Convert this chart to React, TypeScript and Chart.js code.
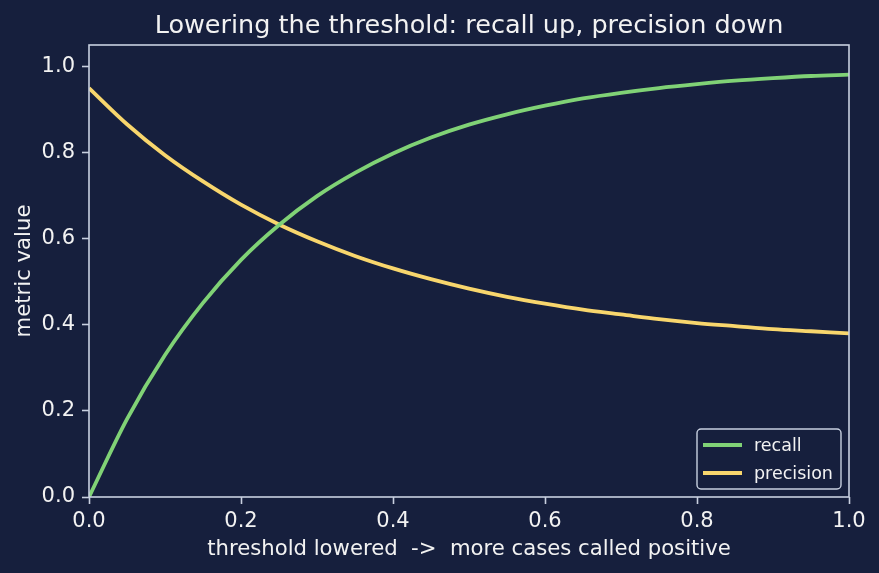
import { useEffect, useRef } from "react";
import { Chart, registerables } from "chart.js";

Chart.register(...registerables);

// Threshold sweep (fraction of the way the threshold has been lowered)
const thresholds = [
  0, 0.05, 0.1, 0.15, 0.2, 0.25, 0.3, 0.35, 0.4, 0.45, 0.5,
  0.55, 0.6, 0.65, 0.7, 0.75, 0.8, 0.85, 0.9, 0.95, 1.0,
];

const recall = [
  0.0, 0.181, 0.33, 0.451, 0.551, 0.632, 0.699, 0.753, 0.798, 0.835, 0.865,
  0.889, 0.909, 0.926, 0.939, 0.95, 0.959, 0.967, 0.973, 0.978, 0.981,
];

const precision = [
  0.95, 0.866, 0.794, 0.733, 0.679, 0.633, 0.594, 0.56, 0.531, 0.506, 0.484,
  0.465, 0.449, 0.435, 0.424, 0.413, 0.404, 0.397, 0.39, 0.385, 0.38,
];

const xTicks = [0, 0.2, 0.4, 0.6, 0.8, 1.0];
const yTicks = [0, 0.2, 0.4, 0.6, 0.8, 1.0];

const seriesLabels = ["recall", "precision"];
const seriesColors = ["#80d276", "#f8d66d"];

const titleText = "Lowering the threshold: recall up, precision down";
const xLabel = "threshold lowered  ->  more cases called positive";
const yLabel = "metric value";

const BG = "#161f3d";
const INK = "#f2f2f2";
const FRAME = "#c8d0e0";
const FONT = "'DejaVu Sans', sans-serif";

const W = 879;
const H = 573;

const decorPlugin = {
  id: "decor",
  beforeDraw(chart: any) {
    const { ctx } = chart;
    ctx.save();
    ctx.fillStyle = BG;
    ctx.fillRect(0, 0, chart.width, chart.height);
    ctx.restore();
  },
  afterDatasetsDraw(chart: any) {
    const { ctx, chartArea } = chart;
    const { left, right, top, bottom } = chartArea;

    // axes frame on all four sides
    ctx.save();
    ctx.strokeStyle = FRAME;
    ctx.lineWidth = 1.6;
    ctx.strokeRect(left, top, right - left, bottom - top);
    ctx.restore();

    // legend box, lower right
    const boxR = right - 8;
    const boxB = bottom - 8;
    const boxW = 144;
    const boxH = 60;
    const boxL = boxR - boxW;
    const boxT = boxB - boxH;
    ctx.save();
    ctx.beginPath();
    ctx.roundRect(boxL, boxT, boxW, boxH, 4);
    ctx.fillStyle = "rgba(22,31,61,0.8)";
    ctx.fill();
    ctx.strokeStyle = FRAME;
    ctx.lineWidth = 1.4;
    ctx.stroke();

    ctx.font = `17.5px ${FONT}`;
    ctx.textAlign = "left";
    ctx.textBaseline = "middle";
    chart.data.datasets.forEach((ds: any, i: number) => {
      const y = boxT + 16 + i * 28;
      ctx.beginPath();
      ctx.moveTo(boxL + 6, y);
      ctx.lineTo(boxL + 45, y);
      ctx.strokeStyle = ds.borderColor;
      ctx.lineWidth = 3.8;
      ctx.stroke();
      ctx.fillStyle = INK;
      ctx.fillText(ds.label, boxL + 57, y + 1);
    });
    ctx.restore();
  },
  afterDraw(chart: any) {
    const { ctx, chartArea } = chart;
    const cx = (chartArea.left + chartArea.right) / 2;
    const cy = (chartArea.top + chartArea.bottom) / 2;
    ctx.save();
    ctx.fillStyle = INK;
    ctx.textAlign = "center";
    ctx.textBaseline = "alphabetic";

    ctx.font = `25.5px ${FONT}`;
    ctx.fillText(titleText, cx, 33);

    ctx.font = `21.2px ${FONT}`;
    ctx.fillText(xLabel, cx, 555);

    ctx.translate(30, cy);
    ctx.rotate(-Math.PI / 2);
    ctx.fillText(yLabel, 0, 0);
    ctx.restore();
  },
};

export default function App() {
  const canvasRef = useRef<HTMLCanvasElement | null>(null);

  useEffect(() => {
    document.body.style.margin = "0";
    document.body.style.background = BG;
    const canvas = canvasRef.current;
    if (!canvas) return;

    const series = [recall, precision];
    const chart = new Chart(canvas, {
      type: "line",
      data: {
        datasets: series.map((vals, i) => ({
          label: seriesLabels[i],
          data: thresholds.map((t, j) => ({ x: t, y: vals[j] })),
          borderColor: seriesColors[i],
          backgroundColor: seriesColors[i],
          borderWidth: 3.8,
          pointRadius: 0,
          fill: false,
          cubicInterpolationMode: "monotone" as const,
        })),
      },
      options: {
        responsive: false,
        devicePixelRatio: 1,
        animation: false,
        events: [],
        layout: { padding: { left: 0, right: 30, top: 45, bottom: 0 } },
        plugins: {
          legend: { display: false },
          title: { display: false },
          tooltip: { enabled: false },
        },
        scales: {
          x: {
            type: "linear",
            min: 0,
            max: 1,
            afterBuildTicks: (s: any) => {
              s.ticks = xTicks.map((v) => ({ value: v }));
            },
            afterFit: (s: any) => {
              s.height = 76;
            },
            grid: {
              drawOnChartArea: false,
              drawTicks: true,
              tickLength: 7,
              tickColor: FRAME,
              tickWidth: 1.6,
            },
            border: { display: false },
            ticks: {
              color: INK,
              font: { family: FONT, size: 21 },
              padding: 5,
              maxRotation: 0,
              autoSkip: false,
              callback: (v: any) => Number(v).toFixed(1),
            },
          },
          y: {
            type: "linear",
            min: 0,
            max: 1.05,
            afterBuildTicks: (s: any) => {
              s.ticks = yTicks.map((v) => ({ value: v }));
            },
            afterFit: (s: any) => {
              s.width = 89;
            },
            grid: {
              drawOnChartArea: false,
              drawTicks: true,
              tickLength: 7,
              tickColor: FRAME,
              tickWidth: 1.6,
            },
            border: { display: false },
            ticks: {
              color: INK,
              font: { family: FONT, size: 21 },
              padding: 7,
              autoSkip: false,
              callback: (v: any) => Number(v).toFixed(1),
            },
          },
        },
      },
      plugins: [decorPlugin],
    });

    return () => chart.destroy();
  }, []);

  return (
    <div style={{ position: "fixed", left: 0, top: 0, width: W, height: H, background: BG }}>
      <canvas ref={canvasRef} width={W} height={H} style={{ display: "block" }} />
    </div>
  );
}
